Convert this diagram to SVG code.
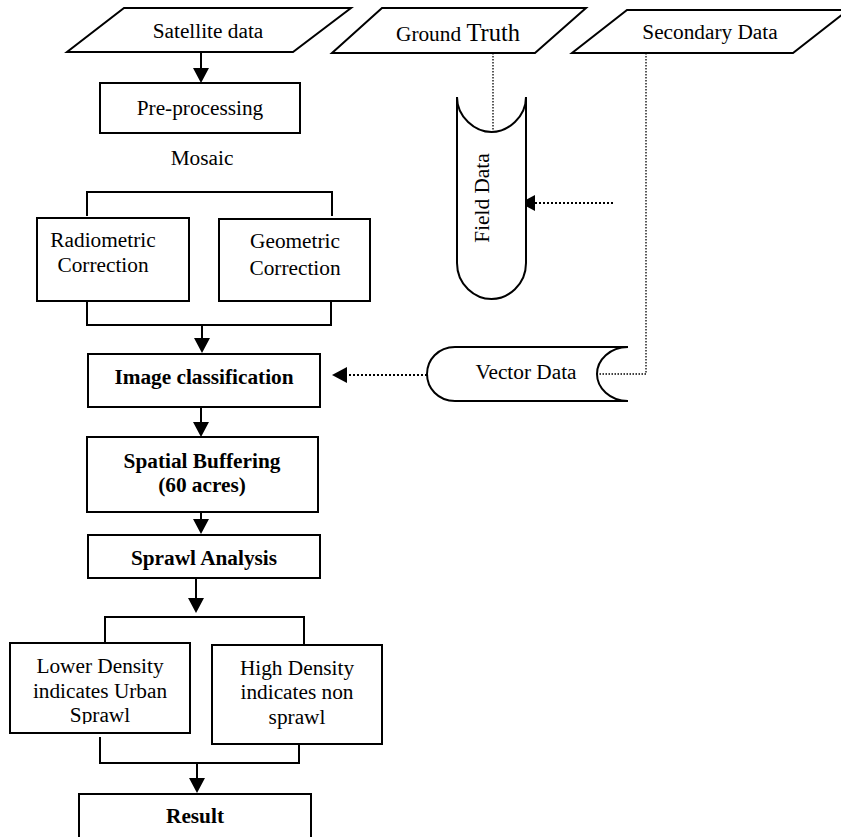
<svg xmlns="http://www.w3.org/2000/svg" width="841" height="837" viewBox="0 0 841 837">
<style>
.s{fill:#fff;stroke:#000;stroke-width:2}
.t{font-family:"Liberation Serif","Times New Roman",serif;font-size:21.3px;fill:#000;text-anchor:middle}
.b{font-weight:bold}
.c{fill:none;stroke:#000;stroke-width:2}
.d{fill:none;stroke:#000;stroke-width:2;stroke-dasharray:2 2}
.dv{fill:none;stroke:#000;stroke-width:1.3;stroke-dasharray:1.5 1.5}
</style>
<defs>
<marker id="ah" viewBox="0 0 15 16" refX="0" refY="8" markerWidth="15" markerHeight="16" markerUnits="userSpaceOnUse" orient="auto">
<path d="M0,0 L15,8 L0,16 z" fill="#000"/>
</marker>
<clipPath id="clipLow"><rect x="0" y="600" width="400" height="124"/></clipPath>
</defs>
<rect width="841" height="837" fill="#fff"/>

<g id="connectors">
<line class="c" x1="201" y1="52" x2="201" y2="68" marker-end="url(#ah)"/>
<polyline class="c" points="87,216 87,192 332,192 332,216"/>
<polyline class="c" points="87,301 87,325 331,325 331,301"/>
<line class="c" x1="202" y1="325" x2="202" y2="338" marker-end="url(#ah)"/>
<line class="c" x1="201" y1="407" x2="201" y2="422" marker-end="url(#ah)"/>
<line class="c" x1="201" y1="503" x2="201" y2="519" marker-end="url(#ah)"/>
<line class="c" x1="196" y1="578" x2="196" y2="598" marker-end="url(#ah)"/>
<polyline class="c" points="105,643 105,617 304,617 304,645"/>
<polyline class="c" points="100,737 100,763 299,763 299,744"/>
<line class="c" x1="197" y1="763" x2="197" y2="778" marker-end="url(#ah)"/>
<line class="dv" x1="493" y1="53" x2="493" y2="131"/>
<line class="d" x1="613" y1="203" x2="535" y2="203" marker-end="url(#ah)"/>
<polyline class="dv" points="646,53 646,374 597,374"/>
<line class="d" x1="427" y1="375" x2="347" y2="375" marker-end="url(#ah)"/>
</g>

<g id="satellite">
<polygon class="s" points="124,8 351,8 293,52 67,52"/>
<text class="t" x="208" y="38">Satellite data</text>
</g>

<g id="ground-truth">
<polygon class="s" points="382,8 586,8 535,53 332,53"/>
<text class="t" x="396" y="41" style="text-anchor:start">Ground <tspan style="font-size:24.5px">Truth</tspan></text>
</g>

<g id="secondary">
<polygon class="s" points="627,10 848,10 793,53 572,53"/>
<text class="t" x="710" y="39">Secondary Data</text>
</g>

<g id="preprocessing">
<rect class="s" x="100" y="83" width="200" height="50"/>
<text class="t" x="200" y="115">Pre-processing</text>
</g>

<g id="mosaic">
<text class="t" x="202" y="165">Mosaic</text>
</g>

<g id="radiometric">
<rect class="s" x="37" y="218" width="152" height="83"/>
<text class="t" x="103" y="247">Radiometric</text>
<text class="t" x="103" y="272">Correction</text>
</g>

<g id="geometric">
<rect class="s" x="219" y="219" width="151" height="82"/>
<text class="t" x="295" y="248">Geometric</text>
<text class="t" x="295" y="275">Correction</text>
</g>

<g id="field-data">
<path class="s" d="M457,97 L457,263 C457,285 475,299 491.5,299 C508,299 526,285 526,263 L526,97 C526,117 508,132 491.5,132 C475,132 457,117 457,97 Z"/>
<text class="t" transform="translate(489,198) rotate(-90)" x="0" y="0">Field Data</text>
</g>

<g id="vector-data">
<path class="s" d="M628,347 L455,347 C438,347 427,360 427,374 C427,388 438,401 455,401 L628,401 C610,401 597,388 597,374 C597,360 610,347 628,347 Z"/>
<text class="t" x="526" y="379">Vector Data</text>
</g>

<g id="image-classification">
<rect class="s" x="88" y="354" width="232" height="53"/>
<text class="t b" x="204" y="384">Image classification</text>
</g>

<g id="spatial-buffering">
<rect class="s" x="87" y="437" width="231" height="75"/>
<text class="t b" x="202" y="468">Spatial Buffering</text>
<text class="t b" x="202" y="492">(60 acres)</text>
</g>

<g id="sprawl-analysis">
<rect class="s" x="88" y="535" width="232" height="43"/>
<text class="t b" x="204" y="565">Sprawl Analysis</text>
</g>

<g id="lower-density">
<rect class="s" x="10" y="643" width="180" height="90"/>
<g clip-path="url(#clipLow)">
<text class="t" x="100" y="673">Lower Density</text>
<text class="t" x="100" y="698">indicates Urban</text>
<text class="t" x="100" y="722">Sprawl</text>
</g>
</g>

<g id="high-density">
<rect class="s" x="212" y="645" width="170" height="99"/>
<text class="t" x="297" y="675">High Density</text>
<text class="t" x="297" y="699">indicates non</text>
<text class="t" x="297" y="724">sprawl</text>
</g>

<g id="result">
<rect class="s" x="79" y="794" width="232" height="60"/>
<text class="t b" x="195" y="823">Result</text>
</g>
</svg>
